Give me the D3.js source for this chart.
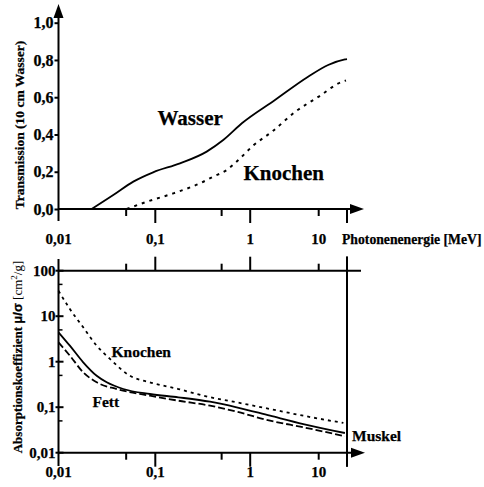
<!DOCTYPE html>
<html>
<head>
<meta charset="utf-8">
<script src="https://cdn.jsdelivr.net/npm/d3@7"></script>
<style>
  body { margin: 0; background: #fff; }
  text { font-family: "Liberation Serif", "Times New Roman", serif; font-weight: bold; fill: #000;
         stroke: #000; stroke-width: 0.25px; }
</style>
</head>
<body>
<script>
// energy axis (MeV), shared by both panels
const energyLabels = [[0.01, "0,01"], [0.1, "0,1"], [1, "1"], [10, "10"]];
const longTicks = [0.1, 1, 20];
const shortTicks = [0.05, 0.5, 10];

// top panel: transmission through 10 cm
const transTicks = [0, 0.2, 0.4, 0.6, 0.8, 1.0];
const wasser = [[0.022, 0], [0.0368, 0.075], [0.0593, 0.147], [0.095, 0.197], [0.182, 0.245],
  [0.348, 0.308], [0.52, 0.37], [0.817, 0.46], [2.3, 0.585], [7.0, 0.71], [12.6, 0.773], [19, 0.803], [20, 0.805]];
const knochenT = [[0.0507, 0], [0.0815, 0.039], [0.155, 0.084], [0.296, 0.138], [0.406, 0.173], [0.565, 0.209],
  [0.75, 0.263], [1.11, 0.341], [2.08, 0.415], [4.55, 0.522], [10, 0.603], [17.7, 0.683], [19.5, 0.69]];

// bottom panel: absorption coefficient
const absTicks = [[100, "100"], [10, "10"], [1, "1"], [0.1, "0,1"], [0.01, "0,01"]];
const absMinor = [50, 5, 0.5, 0.05];
const muskel = [[0.01, 4.43], [0.0131, 2.25], [0.018, 0.97], [0.0248, 0.49], [0.0315, 0.352], [0.0467, 0.251],
  [0.088, 0.195], [0.175, 0.165], [0.377, 0.132], [0.72, 0.0995], [1.95, 0.065], [5.96, 0.0427], [19, 0.0271]];
const fett = [[0.01, 2.67], [0.0131, 1.36], [0.018, 0.585], [0.0248, 0.352], [0.04, 0.251], [0.088, 0.179],
  [0.175, 0.139], [0.377, 0.108], [0.72, 0.0796], [1.95, 0.0505], [5.96, 0.0362], [19, 0.0229]];
const knochenA = [[0.01, 36.3], [0.0131, 14.4], [0.018, 5.7], [0.0248, 2.25], [0.034, 1.15], [0.0548, 0.49],
  [0.088, 0.352], [0.175, 0.251], [0.32, 0.179], [0.72, 0.128], [1.95, 0.0912], [5.96, 0.065], [18.3, 0.045]];

const svg = d3.select("body").append("svg").attr("width", 484).attr("height", 487);

// the original axis is hand drawn, decades are not equally wide
const x = d3.scaleLog().domain([0.01, 0.1, 1, 10, 20]).range([58.5, 155.3, 250.2, 318.7, 347]);
const yT = d3.scaleLinear().domain([0, 1]).range([209, 22.7]);
const yA = d3.scaleLog().domain([0.01, 100]).range([452.7, 270.7]);

const x0 = x(0.01), xEnd = x(20);

function hline(x1, x2, y, w) {
  svg.append("line").attr("x1", x1).attr("x2", x2).attr("y1", y).attr("y2", y)
    .attr("stroke", "#000").attr("stroke-width", w || 2);
}
function vline(xx, y1, y2, w) {
  svg.append("line").attr("x1", xx).attr("x2", xx).attr("y1", y1).attr("y2", y2)
    .attr("stroke", "#000").attr("stroke-width", w || 2);
}
function arrowRight(tip, y) {
  svg.append("path").attr("d", `M${tip},${y}L${tip - 14},${y - 5}L${tip - 14},${y + 5}Z`);
}

// ---- top panel ----
hline(x0, 352, yT(0));
arrowRight(364, yT(0));
vline(x0, 221, 16);
svg.append("path").attr("d", `M${x0},4L${x0 - 5},18L${x0 + 5},18Z`);

svg.append("g").attr("transform", `translate(${x0},0)`)
  .call(d3.axisLeft(yT).tickValues(transTicks).tickSize(4).tickPadding(1).tickFormat(d => d3.format(".1f")(d).replace(".", ",")))
  .call(g => g.select(".domain").remove())
  .call(g => g.selectAll("line").attr("stroke-width", 2))
  .call(g => g.selectAll("text").attr("font-size", 16).attr("font-family", null));

longTicks.forEach(d => vline(x(d), yT(0), yT(0) + 14));
shortTicks.forEach(d => vline(x(d), yT(0), yT(0) + 7));

svg.append("g").selectAll("text").data(energyLabels).join("text")
  .attr("x", d => x(d[0])).attr("y", 244).attr("text-anchor", "middle")
  .attr("font-size", 15).text(d => d[1]);
svg.append("text").attr("x", 342).attr("y", 244).attr("font-size", 13.7).text("Photonenenergie [MeV]");

svg.append("text").attr("transform", "translate(24,125) rotate(-90)").attr("text-anchor", "middle")
  .attr("font-size", 13.5).text("Transmission (10 cm Wasser)");

const lineT = d3.line().x(d => x(d[0])).y(d => yT(d[1])).curve(d3.curveMonotoneX);
svg.append("path").attr("d", lineT(wasser)).attr("fill", "none").attr("stroke", "#000").attr("stroke-width", 1.8);
svg.append("path").attr("d", lineT(knochenT)).attr("fill", "none").attr("stroke", "#000").attr("stroke-width", 2)
  .attr("stroke-dasharray", "3,5");

svg.append("text").attr("x", 157.5).attr("y", 125).attr("font-size", 21).text("Wasser");
svg.append("text").attr("x", 243.5).attr("y", 180).attr("font-size", 21).text("Knochen");

// ---- bottom panel ----
const yTop = yA(100), yBot = yA(0.01);
hline(x0, 361, yTop);
vline(xEnd, 256.5, 466.5);
vline(x0, 259, 466);
hline(x0, 352, yBot);
arrowRight(365, yBot);

longTicks.forEach(d => { vline(x(d), yTop, yTop - 14); vline(x(d), yBot, yBot + 14); });
shortTicks.forEach(d => { vline(x(d), yTop, yTop - 7); vline(x(d), yBot, yBot + 7); });

svg.append("g").selectAll("line").data(absTicks).join("line")
  .attr("x1", x0 - 3).attr("x2", x0 + 5).attr("y1", d => yA(d[0])).attr("y2", d => yA(d[0]))
  .attr("stroke", "#000").attr("stroke-width", 2);
svg.append("g").selectAll("line").data(absMinor).join("line")
  .attr("x1", x0).attr("x2", x0 + 4).attr("y1", d => yA(d)).attr("y2", d => yA(d))
  .attr("stroke", "#000").attr("stroke-width", 1.5);
svg.append("g").selectAll("text").data(absTicks).join("text")
  .attr("x", x0 - 3).attr("y", d => yA(d[0])).attr("dy", "0.34em").attr("text-anchor", "end")
  .attr("font-size", 15).text(d => d[1]);

svg.append("g").selectAll("text").data(energyLabels).join("text")
  .attr("x", d => x(d[0])).attr("y", 477).attr("text-anchor", "middle")
  .attr("font-size", 15).text(d => d[1]);

const yTitle = svg.append("text").attr("transform", "translate(22,357) rotate(-90)").attr("text-anchor", "middle")
  .attr("font-size", 13);
yTitle.append("tspan").text("Absorptionskoeffizient ");
yTitle.append("tspan").attr("font-family", "'Liberation Sans', Arial, sans-serif").text("μ/σ");
yTitle.append("tspan").attr("font-weight", "normal").attr("stroke-width", 0).text(" [cm");
yTitle.append("tspan").attr("font-weight", "normal").attr("stroke-width", 0).attr("font-size", 9).attr("dy", -5).text("2");
yTitle.append("tspan").attr("font-weight", "normal").attr("stroke-width", 0).attr("dy", 5).text("/g]");

const lineA = d3.line().x(d => x(d[0])).y(d => yA(d[1])).curve(d3.curveMonotoneX);
svg.append("path").attr("d", lineA(muskel)).attr("fill", "none").attr("stroke", "#000").attr("stroke-width", 1.8);
svg.append("path").attr("d", lineA(fett)).attr("fill", "none").attr("stroke", "#000").attr("stroke-width", 1.8)
  .attr("stroke-dasharray", "7,3");
svg.append("path").attr("d", lineA(knochenA)).attr("fill", "none").attr("stroke", "#000").attr("stroke-width", 1.8)
  .attr("stroke-dasharray", "3,4");

svg.append("text").attr("x", 111.5).attr("y", 357).attr("font-size", 15.5).text("Knochen");
svg.append("text").attr("x", 92.5).attr("y", 406.5).attr("font-size", 15.5).text("Fett");
svg.append("text").attr("x", 352).attr("y", 440.5).attr("font-size", 15.5).text("Muskel");
</script>
</body>
</html>
